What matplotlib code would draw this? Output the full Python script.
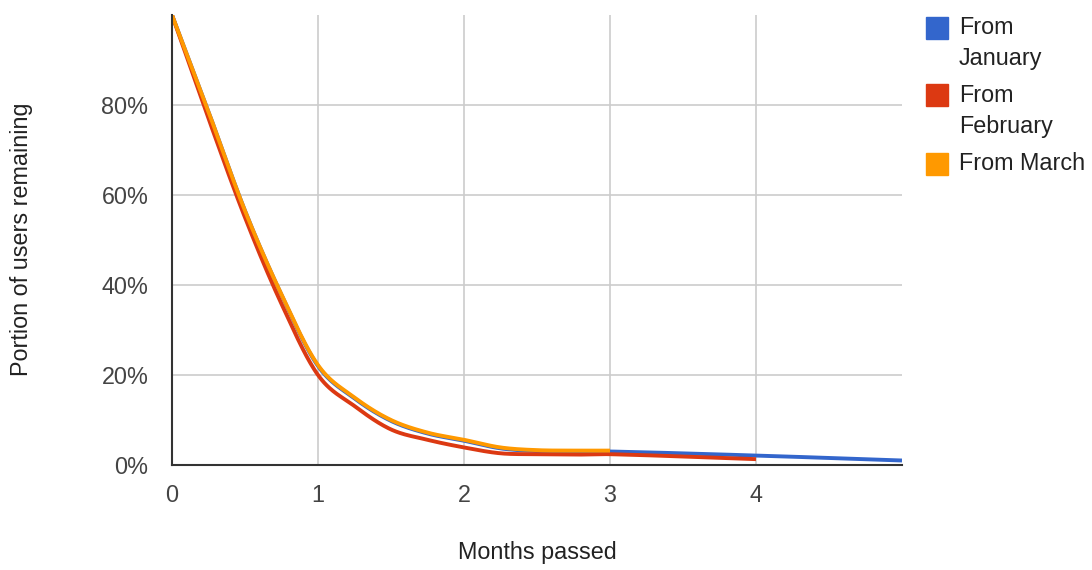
import numpy as np
import matplotlib
matplotlib.use("Agg")
import matplotlib.pyplot as plt
from matplotlib.patches import Rectangle

# Data (portion of users remaining, %)
months_jan = [0, 0.25, 0.5, 0.75, 1, 1.25, 1.5, 1.75, 2, 2.25, 2.5, 2.75, 3, 4, 5]
from_january = [100, 78.5, 56.5, 37.8, 22.0, 14.8, 9.8, 7.0, 5.4, 3.7, 3.1, 3.0, 3.0, 2.1, 1.0]

months_feb = [0, 0.25, 0.5, 0.75, 1, 1.25, 1.5, 1.75, 2, 2.25, 2.5, 2.75, 3, 4]
from_february = [100, 77, 55, 35.8, 20.0, 13.1, 7.9, 5.6, 3.9, 2.6, 2.4, 2.3, 2.4, 1.3]

months_mar = [0, 0.25, 0.5, 0.75, 1, 1.25, 1.5, 1.75, 2, 2.25, 2.5, 2.75, 3]
from_march = [100, 78.5, 56.5, 37.9, 22.2, 15.0, 10.0, 7.2, 5.6, 3.9, 3.3, 3.2, 3.2]

series_names = ["From\nJanuary", "From\nFebruary", "From March"]
colors = ["#3366cc", "#dc3912", "#ff9900"]

x_ticks = [0, 1, 2, 3, 4]
y_ticks = [0, 20, 40, 60, 80]


def smooth(x, y, n=30):
    # Catmull-Rom style cubic through the points, for a smooth line
    x = np.asarray(x, float)
    y = np.asarray(y, float)
    h = np.diff(x)
    d = np.diff(y) / h
    m = np.zeros_like(y)
    m[0], m[-1] = d[0], d[-1]
    for i in range(1, len(y) - 1):
        m[i] = (y[i + 1] - y[i - 1]) / (x[i + 1] - x[i - 1])
    t = np.linspace(0, 1, n)
    h00 = 2 * t**3 - 3 * t**2 + 1
    h10 = t**3 - 2 * t**2 + t
    h01 = -2 * t**3 + 3 * t**2
    h11 = t**3 - t**2
    xs, ys = [], []
    for i in range(len(h)):
        xs.append(x[i] + t * h[i])
        ys.append(h00 * y[i] + h10 * h[i] * m[i] + h01 * y[i + 1] + h11 * h[i] * m[i + 1])
    return np.concatenate(xs), np.concatenate(ys)


plt.rcParams['font.family'] = ['Liberation Sans', 'DejaVu Sans']

fig = plt.figure(figsize=(10.92, 5.70), dpi=100)
ax = fig.add_axes([172 / 1092, 105 / 570, 730 / 1092, 450 / 570])

for (xv, yv), c in zip([(months_jan, from_january), (months_feb, from_february),
                        (months_mar, from_march)], colors):
    sx, sy = smooth(xv, yv)
    ax.plot(sx, sy, color=c, lw=2.8, solid_capstyle='butt', zorder=3)

ax.set_xlim(0, 5)
ax.set_ylim(0, 100)
ax.set_xticks(x_ticks)
ax.set_yticks(y_ticks)
ax.set_yticklabels([f"{v}%" for v in y_ticks])
ax.tick_params(length=0, labelsize=16.8, colors='#444444')
ax.tick_params(axis='x', pad=14)
ax.tick_params(axis='y', pad=17)

for v in [20, 40, 60, 80]:
    ax.axhline(v, color='#cccccc', lw=1.2, zorder=1)
for v in [1, 2, 3, 4]:
    ax.axvline(v, color='#cccccc', lw=1.2, zorder=1)

for s in ['top', 'right']:
    ax.spines[s].set_visible(False)
for s in ['left', 'bottom']:
    ax.spines[s].set_color('#333333')
    ax.spines[s].set_linewidth(1.5)
    ax.spines[s].set_zorder(4)

fig.text(537 / 1092, 1 - 553 / 570, "Months passed", ha='center', va='center',
         fontsize=16.8, color='#222222')
fig.text(22 / 1092, 1 - 239 / 570, "Portion of users remaining", ha='center', va='center',
         rotation=90, fontsize=16.8, color='#222222')

# legend drawn by hand to match the wrapped labels
leg_tops = [17, 84, 153]
for top, name, c in zip(leg_tops, series_names, colors):
    fig.patches.append(Rectangle((926 / 1092, 1 - (top + 22) / 570), 22 / 1092, 22 / 570,
                                 transform=fig.transFigure, color=c))
    for k, ln in enumerate(name.split("\n")):
        fig.text(959 / 1092, 1 - (top + 11 + 31 * k) / 570, ln, ha='left', va='center',
                 fontsize=16.8, color='#222222')

fig.savefig("out.png", dpi=100)
